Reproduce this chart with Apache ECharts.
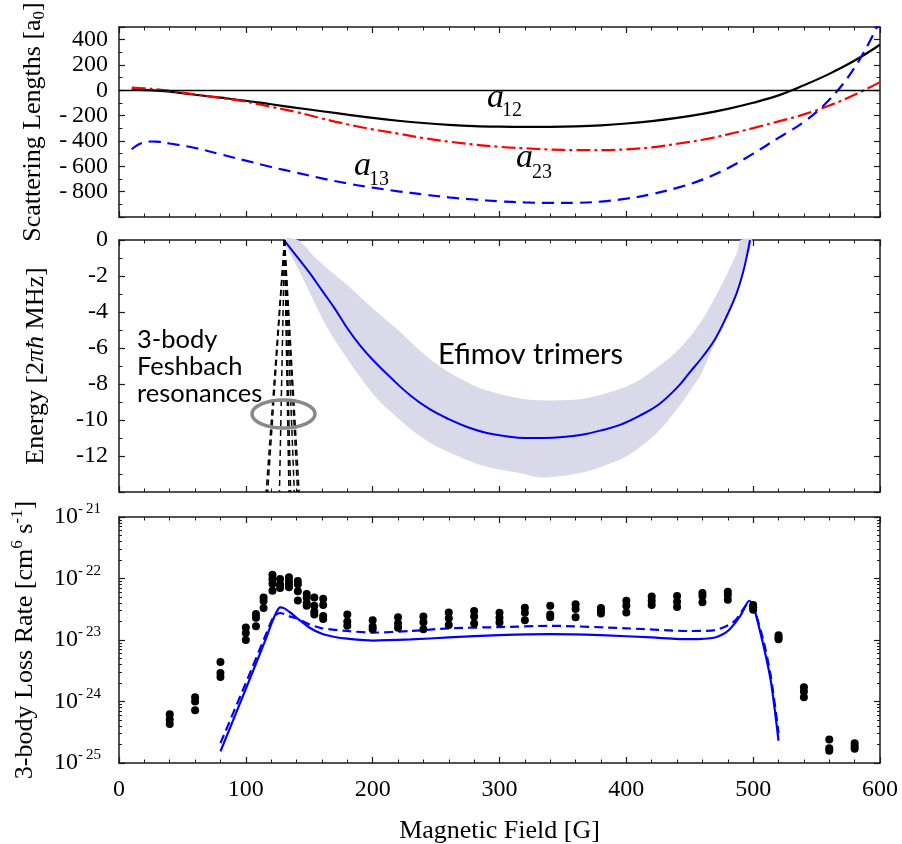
<!DOCTYPE html>
<html>
<head>
<meta charset="utf-8">
<script src="https://cdn.jsdelivr.net/npm/echarts@6/dist/echarts.min.js"></script>
<style>html,body{margin:0;padding:0;background:#fff}#c{width:902px;height:844px}</style>
</head>
<body>
<div id="c"></div>
<script>
// ---------- Top panel: scattering lengths [a0] vs field [G] ----------
const fieldA12 = [10,20,30,40,60,80,100,120,140,160,180,200,220,240,260,280,300,320,340,360,380,400,420,440,460,480,500,520,540,560,580,600];
const a12 = [5,2,-2,-10,-35,-58,-82,-110,-138,-165,-192,-218,-240,-258,-272,-282,-287,-289,-288,-284,-276,-262,-243,-218,-186,-146,-98,-40,40,130,235,360];
const fieldA23 = [10,20,30,40,60,80,100,120,140,160,180,200,220,240,260,280,300,320,340,360,380,400,420,440,460,480,500,520,540,560,580,600];
const a23 = [22,16,8,-5,-32,-60,-90,-130,-172,-222,-268,-308,-342,-377,-405,-428,-446,-458,-467,-472,-472,-466,-450,-422,-390,-348,-298,-245,-190,-120,-35,65];
const fieldA13 = [10,15,20,25,30,40,60,80,100,120,140,160,180,200,220,240,260,280,300,320,340,360,380,400,420,440,460,480,500,520,530,540,550,560,570,580,590,600];
const a13 = [-465,-430,-410,-404,-405,-420,-455,-505,-555,-605,-650,-695,-735,-768,-797,-822,-845,-862,-876,-885,-889,-888,-878,-855,-820,-770,-705,-615,-500,-375,-315,-250,-170,-75,40,180,350,550];

// ---------- Middle panel: energies [2 pi hbar MHz] ----------
const trimerField = [130,140,150,160,170,180,190,200,215,230,245,260,275,290,305,320,335,350,365,380,395,410,425,440,450,460,470,480,487,492,495,497.5];
const trimerEnergy = [0,-0.9,-1.8,-2.8,-3.8,-4.9,-5.85,-6.65,-7.7,-8.65,-9.4,-9.95,-10.4,-10.72,-10.9,-11.0,-11.0,-10.95,-10.82,-10.58,-10.27,-9.78,-9.17,-8.2,-7.35,-6.5,-5.5,-4.1,-2.95,-1.8,-0.9,0];
const bandUpperField = [141,155,168,180,193,206,220,232.5,245,259,272,285,300,316.6,332,350,366.5,382,398,411,424,438,451,462,472,480,487.5,490];
const bandUpperEnergy = [0,-1.0,-1.8,-2.5,-3.35,-4.17,-5.0,-5.83,-6.6,-7.3,-7.8,-8.24,-8.55,-8.8,-8.9,-8.9,-8.8,-8.55,-8.2,-7.75,-7.1,-6.3,-5.3,-4.2,-2.9,-1.8,-0.65,0];
const bandLowerField = [130.5,142,153.6,166,180,193,206,220,232.5,245,258.8,272,285,300,316.6,332,350,366.5,382,398,411,424.4,440,451,458.6,470,479.6,487,492.8,499.4];
const bandLowerEnergy = [0,-1.7,-3.4,-5.1,-6.6,-7.9,-9.0,-9.9,-10.65,-11.25,-11.75,-12.15,-12.5,-12.75,-12.96,-13.2,-13.1,-12.9,-12.55,-12.1,-11.5,-10.7,-9.4,-8.3,-7.5,-5.7,-4.35,-2.8,-1.4,0];
const resonanceTopField = 130.5;          // all 3-body Feshbach lines meet here at E = 0
const resonanceBottomField = [116,117.2,126.5,134,135.3,138.2,140.8,142]; // field where each line reaches E = -14

// ---------- Bottom panel: 3-body loss rate [cm^6 s^-1] ----------
const lossFields = [40,60,80,100,108,114,121,127,134,141,148,154,161,180,200,220,240,260,280,300,320,340,360,380,400,420,440,460,480,500,520,540,560,580];
const lossRates = [
  [6.2e-25,5.1e-25,4.3e-25],[1.17e-24,1.0e-24,7.2e-25],[4.4e-24,2.9e-24,2.5e-24],
  [1.6e-23,1.3e-23,1.0e-23],[2.65e-23,2.3e-23,1.68e-23],[4.9e-23,4.3e-23,3.3e-23],
  [1.15e-22,9.7e-23,8.2e-23,6.3e-23],[9.8e-23,8.1e-23,7.0e-23],[1.05e-22,9.1e-23,8.1e-23,7.2e-23],
  [9.1e-23,8.1e-23,6.2e-23,4.4e-23],[5.6e-23,4.9e-23,4.0e-23,3.6e-23],[4.9e-23,3.6e-23,2.9e-23,2.6e-23],
  [4.7e-23,3.7e-23,2.45e-23,2.2e-23],[2.6e-23,2.0e-23,1.7e-23],[2.1e-23,1.65e-23,1.5e-23],
  [2.35e-23,1.85e-23,1.58e-23],[2.4e-23,1.95e-23,1.5e-23],[2.8e-23,2.25e-23,1.75e-23],
  [2.95e-23,2.42e-23,1.86e-23],[2.78e-23,2.3e-23,1.92e-23],[3.35e-23,2.78e-23,2.1e-23],
  [3.6e-23,2.6e-23,2.35e-23],[3.8e-23,3.2e-23,2.35e-23],[3.3e-23,3.0e-23,2.7e-23],
  [4.35e-23,3.6e-23,2.8e-23],[5.1e-23,4.35e-23,3.7e-23],[5.2e-23,4.2e-23,3.45e-23],
  [5.8e-23,5.2e-23,4.1e-23],[6.1e-23,5.4e-23,4.5e-23],[3.7e-23,3.4e-23,3.1e-23],
  [1.2e-23,1.1e-23,1.03e-23],[1.7e-24,1.45e-24,1.17e-24],[2.4e-25,1.74e-25,1.58e-25],
  [2.1e-25,1.85e-25,1.7e-25]
];
const theoryFieldSolid = [80,100,115,120,124,127,130,135,140,150,160,170,180,200,230,260,300,340,380,420,450,470,480,490,497,500,508,514,520];
const theorySolid = [1.55e-25,1.6e-24,9.5e-24,1.8e-23,2.8e-23,3.4e-23,3.3e-23,2.8e-23,2.3e-23,1.6e-23,1.26e-23,1.12e-23,1.05e-23,9.8e-24,1.02e-23,1.1e-23,1.2e-23,1.25e-23,1.2e-23,1.1e-23,1.03e-23,1.1e-23,1.4e-23,2.5e-23,4.35e-23,3.7e-23,8.3e-24,2.1e-24,2.3e-25];
const theoryFieldDashed = [80,100,115,122,127,130,135,140,150,160,180,200,230,260,300,340,400,450,470,485,497,500,508,514,520];
const theoryDashed = [2.1e-25,2.0e-24,1.12e-23,2.4e-23,2.75e-23,2.65e-23,2.4e-23,2.25e-23,1.8e-23,1.55e-23,1.4e-23,1.32e-23,1.4e-23,1.55e-23,1.62e-23,1.7e-23,1.55e-23,1.4e-23,1.45e-23,2.0e-23,4.0e-23,3.55e-23,1.0e-23,2.5e-24,3.1e-25];
const lossAxisMin = 1e-25, lossAxisMax = 1e-21;

// ---------- helpers ----------
// The log axis works in units of 1e-25 cm^6 s^-1 (avoids float rounding of tiny numbers);
// the labels convert back to the true powers of ten.
const LOSS_UNIT = 1e-25;
const LOSS_UNIT_EXP = -25;
const toUnit = v => v / LOSS_UNIT;
const zip = (xs, ys) => xs.map((x, i) => [x, ys[i]]);
const SERIF = 'Liberation Serif';
const AX = '#1a1a1a';
const TICK_FS = 24;
const NAME_FS = 26;

function xAxisFor(grid, pos, showLabels) {
  return {
    type: 'value', gridIndex: grid, position: pos, min: 0, max: 600, interval: 100,
    axisLine: { show: true, onZero: false, lineStyle: { color: AX, width: 1.5 } },
    axisTick: { show: true, inside: true, length: 6, lineStyle: { color: AX, width: 1.2 } },
    minorTick: { show: true, splitNumber: 5, length: 3.5, lineStyle: { color: AX, width: 1 } },
    splitLine: { show: false },
    axisLabel: { show: showLabels, margin: 15, color: '#000', fontFamily: SERIF, fontSize: TICK_FS },
    name: showLabels ? 'Magnetic Field [G]' : '',
    nameLocation: 'middle', nameGap: 55,
    nameTextStyle: { color: '#000', fontFamily: SERIF, fontSize: NAME_FS }
  };
}
function yAxisLinear(grid, pos, min, max, interval, showLabels, fmt, name, nameGap, rich) {
  return {
    type: 'value', gridIndex: grid, position: pos, min: min, max: max, interval: interval,
    axisLine: { show: true, onZero: false, lineStyle: { color: AX, width: 1.5 } },
    axisTick: { show: true, inside: true, length: 6, lineStyle: { color: AX, width: 1.2 } },
    minorTick: { show: true, splitNumber: 2, length: 3.5, lineStyle: { color: AX, width: 1 } },
    splitLine: { show: false },
    axisLabel: { show: showLabels, margin: 11, color: '#000', fontFamily: SERIF, fontSize: TICK_FS, formatter: fmt },
    name: showLabels ? name : '', nameLocation: 'middle', nameGap: nameGap,
    nameTextStyle: { color: '#000', fontFamily: SERIF, fontSize: NAME_FS, lineHeight: 30, rich: rich || {} }
  };
}
function yAxisLog(grid, pos, showLabels) {
  return {
    type: 'log', logBase: 10, gridIndex: grid, position: pos,
    min: toUnit(lossAxisMin), max: toUnit(lossAxisMax), splitNumber: 4,
    axisLine: { show: true, onZero: false, lineStyle: { color: AX, width: 1.5 } },
    axisTick: { show: true, inside: true, length: 6, lineStyle: { color: AX, width: 1.2 } },
    minorTick: { show: true, splitNumber: 9, length: 3, lineStyle: { color: AX, width: 1 } },
    splitLine: { show: false },
    axisLabel: {
      show: showLabels, margin: 18, color: '#000',
      formatter: v => '{b|10}{s|-\u2009' + (-(Math.round(Math.log10(v)) + LOSS_UNIT_EXP)) + '}',
      rich: {
        b: { fontFamily: SERIF, fontSize: TICK_FS, lineHeight: 30, verticalAlign: 'middle', color: '#000' },
        s: { fontFamily: SERIF, fontSize: 15, lineHeight: 15, verticalAlign: 'top', color: '#000' }
      }
    },
    name: showLabels ? '3-body Loss Rate [cm{s|6} s{s|-1}]' : '', nameLocation: 'middle', nameGap: 78,
    nameTextStyle: {
      color: '#000', fontFamily: SERIF, fontSize: NAME_FS, lineHeight: 32,
      rich: { s: { fontFamily: SERIF, fontSize: 17, lineHeight: 16, verticalAlign: 'top', color: '#000' } }
    }
  };
}

const scatFmt = v => v === -1000 ? '' : (v < 0 ? '-\u2009' + (-v) : String(v));
const energyFmt = v => v === -14 ? '' : String(v);

const lossData = [];
lossFields.forEach((f, i) => lossRates[i].forEach(r => lossData.push([f, toUnit(r)])));

const resonanceSeries = resonanceBottomField.map(b => ({
  type: 'line', xAxisIndex: 2, yAxisIndex: 2, showSymbol: false, silent: true, z: 4,
  data: [[resonanceTopField, 0], [b, -14]],
  lineStyle: { color: '#000', width: 1.5, type: [6, 4] }
}));

const gridBase = { left: 119, right: 22, containLabel: false, outerBoundsMode: 'none' };

const chart = echarts.init(document.getElementById('c'), null, { renderer: 'canvas' });
chart.setOption({
  backgroundColor: '#fff',
  animation: false,
  grid: [
    Object.assign({ top: 27, height: 190 }, gridBase),
    Object.assign({ top: 240, height: 252 }, gridBase),
    Object.assign({ top: 517, height: 246 }, gridBase)
  ],
  xAxis: [
    xAxisFor(0, 'bottom', false), xAxisFor(0, 'top', false),
    xAxisFor(1, 'bottom', false), xAxisFor(1, 'top', false),
    xAxisFor(2, 'bottom', true), xAxisFor(2, 'top', false)
  ],
  yAxis: [
    yAxisLinear(0, 'left', -1000, 500, 200, true, scatFmt, 'Scattering Lengths [a{sub|0}]', 70,
      { sub: { fontFamily: SERIF, fontSize: 17, lineHeight: 16, verticalAlign: 'bottom', color: '#000' } }),
    yAxisLinear(0, 'right', -1000, 500, 200, false, scatFmt, '', 0),
    yAxisLinear(1, 'left', -14, 0, 2, true, energyFmt, 'Energy [2{i|πħ} MHz]', 68,
      { i: { fontFamily: SERIF, fontSize: NAME_FS, fontStyle: 'italic', color: '#000' } }),
    yAxisLinear(1, 'right', -14, 0, 2, false, energyFmt, '', 0),
    yAxisLog(2, 'left', true),
    yAxisLog(2, 'right', false)
  ],
  series: [
    { name: 'a12', type: 'line', xAxisIndex: 0, yAxisIndex: 0, showSymbol: false, smooth: 0.4, z: 3,
      data: zip(fieldA12, a12), lineStyle: { color: '#000', width: 2.2 },
      markLine: { silent: true, symbol: 'none', label: { show: false },
        lineStyle: { color: '#000', width: 1.3, type: 'solid' }, data: [{ yAxis: 0 }] } },
    { name: 'a23', type: 'line', xAxisIndex: 0, yAxisIndex: 0, showSymbol: false, smooth: 0.4, z: 3,
      data: zip(fieldA23, a23), lineStyle: { color: '#ff0000', width: 2.2, type: [14, 4, 3, 4] } },
    { name: 'a13', type: 'line', xAxisIndex: 0, yAxisIndex: 0, showSymbol: false, smooth: 0.4, z: 3,
      data: zip(fieldA13, a13), lineStyle: { color: '#0000ff', width: 2.2, type: [12, 7] } },

    { name: 'band', type: 'custom', xAxisIndex: 2, yAxisIndex: 2, silent: true, z: 1,
      data: [0],
      renderItem: (params, api) => {
        const pts = zip(bandUpperField, bandUpperEnergy).map(p => api.coord(p))
          .concat(zip(bandLowerField, bandLowerEnergy).reverse().map(p => api.coord(p)));
        return { type: 'polygon', shape: { points: pts, smooth: 0.3 }, style: { fill: '#d9d9ea', stroke: null } };
      } },
    { name: 'trimer', type: 'line', xAxisIndex: 2, yAxisIndex: 2, showSymbol: false, smooth: 0.4, z: 3,
      data: zip(trimerField, trimerEnergy), lineStyle: { color: '#0000ee', width: 2 } },
    ...resonanceSeries,

    { name: 'data', type: 'scatter', xAxisIndex: 4, yAxisIndex: 4, symbolSize: 8, z: 5,
      itemStyle: { color: '#000', opacity: 1 }, data: lossData },
    { name: 'theory solid', type: 'line', xAxisIndex: 4, yAxisIndex: 4, showSymbol: false, smooth: 0.25, z: 3,
      data: zip(theoryFieldSolid, theorySolid.map(toUnit)), lineStyle: { color: '#0000ff', width: 2.2 } },
    { name: 'theory dashed', type: 'line', xAxisIndex: 4, yAxisIndex: 4, showSymbol: false, smooth: 0.25, z: 3,
      data: zip(theoryFieldDashed, theoryDashed.map(toUnit)), lineStyle: { color: '#0000ff', width: 2.2, type: [9, 5] } }
  ],
  graphic: [
    { type: 'text', x: 487, y: 98, z: 10, style: { text: 'a', font: 'italic 34px "Liberation Serif"', fill: '#000', verticalAlign: 'middle' } },
    { type: 'text', x: 502, y: 111, z: 10, style: { text: '12', font: '20px "Liberation Serif"', fill: '#000', verticalAlign: 'middle' } },
    { type: 'text', x: 516, y: 158, z: 10, style: { text: 'a', font: 'italic 34px "Liberation Serif"', fill: '#000', verticalAlign: 'middle' } },
    { type: 'text', x: 532, y: 173, z: 10, style: { text: '23', font: '20px "Liberation Serif"', fill: '#000', verticalAlign: 'middle' } },
    { type: 'text', x: 354, y: 166, z: 10, style: { text: 'a', font: 'italic 34px "Liberation Serif"', fill: '#000', verticalAlign: 'middle' } },
    { type: 'text', x: 369, y: 180, z: 10, style: { text: '13', font: '20px "Liberation Serif"', fill: '#000', verticalAlign: 'middle' } },
    { type: 'text', x: 137, y: 366.7, z: 10, style: { text: '3-body\nFeshbach\nresonances', font: '25.5px Lato', lineHeight: 26.7, fill: '#000', verticalAlign: 'middle' } },
    { type: 'text', x: 438, y: 355, z: 10, style: { text: 'Efimov trimers', font: '29px Lato', fill: '#000', verticalAlign: 'middle' } },
    { type: 'ellipse', z: 9, shape: { cx: 283.5, cy: 414, rx: 31.5, ry: 14 }, style: { fill: null, stroke: '#888', lineWidth: 3.5 } }
  ]
});
</script>
</body>
</html>
